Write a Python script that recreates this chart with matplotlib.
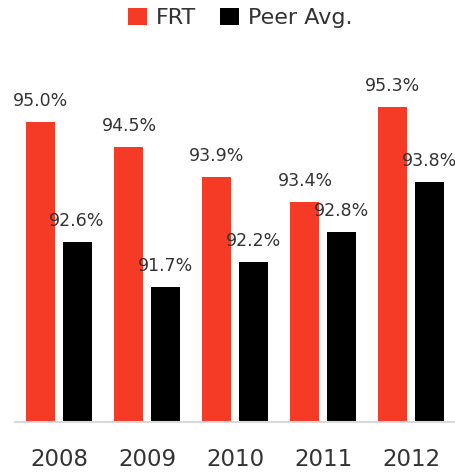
import numpy as np
import matplotlib.pyplot as plt

years = ["2008", "2009", "2010", "2011", "2012"]
frt = [95.0, 94.5, 93.9, 93.4, 95.3]
peer = [92.6, 91.7, 92.2, 92.8, 93.8]

red = "#f53a26"
black = "#000000"
txt = "#333333"

plt.rcParams['font.family'] = ['DejaVu Sans']

fig = plt.figure(figsize=(4.56, 4.72), dpi=100)
ax = fig.add_axes([15 / 456, 50 / 472, 440 / 456, 372 / 472])

x = np.arange(len(years))
w = 0.33
off = 0.205
b1 = ax.bar(x - off, frt, w, color=red, label="FRT")
b2 = ax.bar(x + off, peer, w, color=black, label="Peer Avg.")

for bars, vals in [(b1, frt), (b2, peer)]:
    for r, v in zip(bars, vals):
        ax.annotate(f"{v:.1f}%", (r.get_x() + r.get_width() / 2, v),
                    xytext=(0, 11.5), textcoords="offset points",
                    ha="center", va="baseline", fontsize=12.5, color=txt)

ax.set_xlim(-0.5, 4.5)
ax.set_ylim(89, 89 + 372 / 50)
ax.set_xticks(x)
ax.set_xticklabels(years, fontsize=16.5, color=txt)
ax.set_yticks([])
for s in ["top", "right", "left"]:
    ax.spines[s].set_visible(False)
ax.spines["bottom"].set_color("#d9d9d9")
ax.spines["bottom"].set_linewidth(1.5)
ax.tick_params(axis="x", length=0, pad=19)

fig.legend(loc="center", bbox_to_anchor=(240 / 456, 1 - 18 / 472), ncol=2,
           frameon=False, fontsize=16, handlelength=0.85, handleheight=0.85,
           handletextpad=0.4, columnspacing=1.1, labelcolor=txt)

fig.savefig("out.png", dpi=100)
